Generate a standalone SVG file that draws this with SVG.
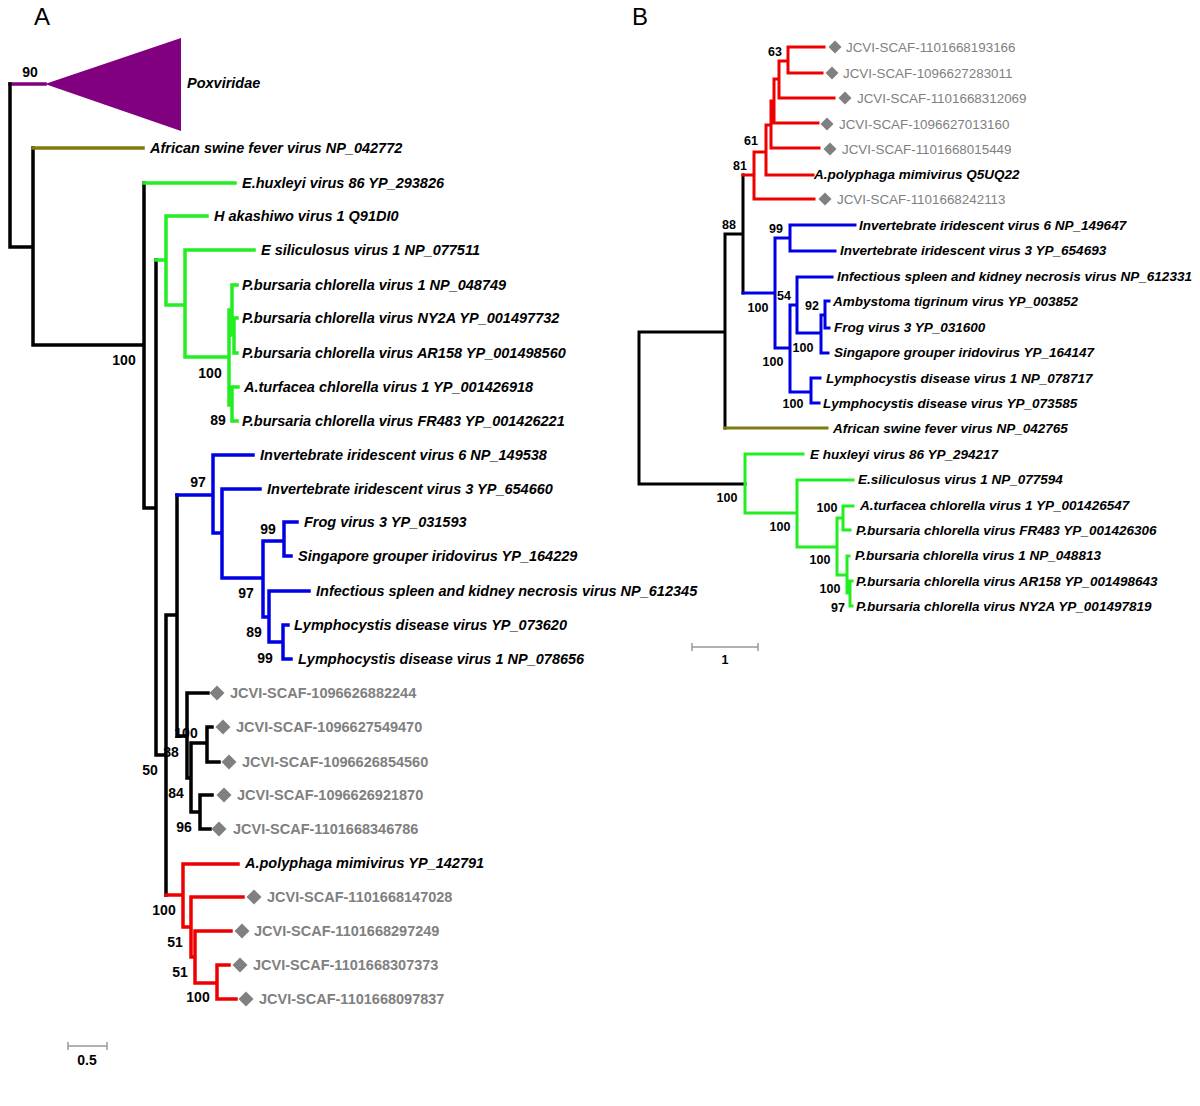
<svg xmlns="http://www.w3.org/2000/svg" width="1200" height="1106" viewBox="0 0 1200 1106">
<style>
.bg{fill:#fff}
.e{fill:none;stroke-linecap:square;stroke-linejoin:miter}
.ea{stroke-width:3.5}
.eb{stroke-width:3}
.k{stroke:#000}
.gr{stroke:#22ee22}
.bl{stroke:#0000e6}
.rd{stroke:#ee0000}
.ol{stroke:#807a10}
.pu{stroke:#800080}
.ta{font:italic bold 14.5px 'Liberation Sans',Arial,sans-serif;fill:#000}
.ga{font:bold 14.5px 'Liberation Sans',Arial,sans-serif;fill:#808080}
.tb{font:italic bold 13.5px 'Liberation Sans',Arial,sans-serif;fill:#000}
.gb{font:13.4px 'Liberation Sans',Arial,sans-serif;fill:#808080}
.na{font:bold 14px 'Liberation Sans',Arial,sans-serif;fill:#000;text-anchor:middle}
.nb{font:bold 12.5px 'Liberation Sans',Arial,sans-serif;fill:#000;text-anchor:middle}
.pl{font:24px 'Liberation Sans',Arial,sans-serif;fill:#000}
.dm{fill:#808080}
.sc{stroke:#999;stroke-width:1.5;fill:none}
</style>
<defs>
<path id="dA" d="M0,-7.5 L7.5,0 L0,7.5 L-7.5,0 Z" class="dm"/>
<path id="dB" d="M0,-6.5 L6.5,0 L0,6.5 L-6.5,0 Z" class="dm"/>
</defs>
<rect class="bg" x="0" y="0" width="1200" height="1106"/>
<text class="pl" x="34" y="25">A</text>
<text class="pl" x="632" y="25">B</text>

<g id="connectors">
<!-- Panel A -->
<path class="e ea pu" d="M10,84 H45"/>
<polygon id="poxviridae-triangle" points="45,84 181,38 181,131" fill="#800080"/>
<path class="e ea k" d="M10,84 V247 M10,247 H33 M33,148 V345 M33,345 H144 M144,183 V508 M144,508 H156 M156,260 V755 M156,755 H166 M166,615 V895 M166,615 H177 M177,495 V736 M177,736 H187 M187,693 V778 M187,693 H208 M187,778 H191 M191,743 V812 M191,743 H207 M207,727 V762 M207,727 H212 M207,762 H219 M191,812 H200 M200,795 V829 M200,795 H212 M200,829 H210"/>
<path class="e ea ol" d="M33,148 H143"/>
<path class="e ea gr" d="M144,183 H235 M156,260 H166 M166,216 V305 M166,216 H207 M166,305 H185 M185,250 V357 M185,250 H254 M185,357 H229 M229,310 V405 M229,310 H232 M232,285 V335 M232,285 H237 M232,335 H234 M234,318 V353 M234,318 H237 M234,353 H237 M229,405 H232 M232,387 V421 M232,387 H238 M232,421 H237"/>
<path class="e ea bl" d="M177,495 H213 M213,455 V533 M213,455 H253 M213,533 H222 M222,489 V578 M222,489 H260 M222,578 H263 M263,541 V617 M263,541 H284 M284,522 V556 M284,522 H297 M284,556 H291 M263,617 H269 M269,591 V642 M269,591 H309 M269,642 H283 M283,625 V659 M283,625 H288 M283,659 H291"/>
<path class="e ea rd" d="M166,895 H183 M183,864 V927 M183,864 H238 M183,927 H191 M191,897 V957 M191,897 H243 M191,957 H195 M195,931 V983 M195,931 H231 M195,983 H217 M217,965 V999 M217,965 H229 M217,999 H236"/>
<!-- Panel B -->
<path class="e eb k" d="M639,332 V484 M639,332 H725 M725,234 V428 M725,234 H743 M743,175 V293 M639,484 H745"/>
<path class="e eb rd" d="M743,175 H754 M754,152 V199 M754,199 H814 M754,152 H766 M766,125 V175 M766,175 H813 M766,125 H771 M771,101 V148 M771,148 H819 M771,101 H774 M774,79 V123 M774,123 H818 M774,79 H779 M779,61 V98 M779,98 H834 M779,61 H788 M788,47 V73 M788,47 H824 M788,73 H822"/>
<path class="e eb ol" d="M725,428 H827"/>
<path class="e eb bl" d="M743,293 H775 M775,238 V348 M775,238 H790 M790,225 V251 M790,225 H855 M790,251 H835 M775,348 H790 M790,305 V392 M790,305 H797 M797,277 V333 M797,277 H832 M797,333 H821 M821,315 V353 M821,315 H825 M825,301 V328 M825,301 H829 M825,328 H829 M821,353 H828 M790,392 H811 M811,378 V403 M811,378 H820 M811,403 H819"/>
<path class="e eb gr" d="M745,454 V513 M745,454 H803 M745,513 H797 M797,480 V547 M797,480 H853 M797,547 H837 M837,518 V575 M837,518 H843 M843,506 V530 M843,506 H853 M843,530 H850 M837,575 H847 M847,556 V593 M847,556 H849 M847,593 H850 M850,581 V606 M850,581 H852 M850,606 H852"/>
</g>

<!-- Panel A leaves -->
<g id="a-poxviridae"><text class="ta" x="187" y="88">Poxviridae</text></g>
<g id="a-asfv"><text class="ta" x="150" y="153">African swine fever virus NP_042772</text></g>
<g id="a-ehux"><text class="ta" x="242" y="188">E.huxleyi virus 86 YP_293826</text></g>
<g id="a-hak"><text class="ta" x="214" y="221">H akashiwo virus 1 Q91DI0</text></g>
<g id="a-esil"><text class="ta" x="261" y="255">E siliculosus virus 1 NP_077511</text></g>
<g id="a-pbcv1"><text class="ta" x="242" y="290">P.bursaria chlorella virus 1 NP_048749</text></g>
<g id="a-ny2a"><text class="ta" x="242" y="323">P.bursaria chlorella virus NY2A YP_001497732</text></g>
<g id="a-ar158"><text class="ta" x="242" y="358">P.bursaria chlorella virus AR158 YP_001498560</text></g>
<g id="a-atcv"><text class="ta" x="244" y="392">A.turfacea chlorella virus 1 YP_001426918</text></g>
<g id="a-fr483"><text class="ta" x="242" y="426">P.bursaria chlorella virus FR483 YP_001426221</text></g>
<g id="a-iiv6"><text class="ta" x="260" y="460">Invertebrate iridescent virus 6 NP_149538</text></g>
<g id="a-iiv3"><text class="ta" x="267" y="494">Invertebrate iridescent virus 3 YP_654660</text></g>
<g id="a-fv3"><text class="ta" x="304" y="527">Frog virus 3 YP_031593</text></g>
<g id="a-sgiv"><text class="ta" x="298" y="561">Singapore grouper iridovirus YP_164229</text></g>
<g id="a-iskn"><text class="ta" x="316" y="596">Infectious spleen and kidney necrosis virus NP_612345</text></g>
<g id="a-lcdv"><text class="ta" x="294" y="630">Lymphocystis disease virus YP_073620</text></g>
<g id="a-lcdv1"><text class="ta" x="298" y="664">Lymphocystis disease virus 1 NP_078656</text></g>
<g id="a-j1"><use href="#dA" x="217" y="693"/><text class="ga" x="230" y="698">JCVI-SCAF-1096626882244</text></g>
<g id="a-j2"><use href="#dA" x="223" y="727"/><text class="ga" x="236" y="732">JCVI-SCAF-1096627549470</text></g>
<g id="a-j3"><use href="#dA" x="229" y="762"/><text class="ga" x="242" y="767">JCVI-SCAF-1096626854560</text></g>
<g id="a-j4"><use href="#dA" x="224" y="795"/><text class="ga" x="237" y="800">JCVI-SCAF-1096626921870</text></g>
<g id="a-j5"><use href="#dA" x="219" y="829"/><text class="ga" x="233" y="834">JCVI-SCAF-1101668346786</text></g>
<g id="a-apmv"><text class="ta" x="245" y="868">A.polyphaga mimivirus YP_142791</text></g>
<g id="a-j6"><use href="#dA" x="254" y="897"/><text class="ga" x="267" y="902">JCVI-SCAF-1101668147028</text></g>
<g id="a-j7"><use href="#dA" x="242" y="931"/><text class="ga" x="254" y="936">JCVI-SCAF-1101668297249</text></g>
<g id="a-j8"><use href="#dA" x="240" y="965"/><text class="ga" x="253" y="970">JCVI-SCAF-1101668307373</text></g>
<g id="a-j9"><use href="#dA" x="246" y="999"/><text class="ga" x="259" y="1004">JCVI-SCAF-1101668097837</text></g>

<!-- Panel A node labels -->
<g id="a-support">
<text class="na" x="30" y="77">90</text>
<text class="na" x="124" y="365">100</text>
<text class="na" x="210" y="378">100</text>
<text class="na" x="218" y="425">89</text>
<text class="na" x="198" y="487">97</text>
<text class="na" x="268" y="534">99</text>
<text class="na" x="246" y="598">97</text>
<text class="na" x="254" y="637">89</text>
<text class="na" x="265" y="663">99</text>
<text class="na" x="186" y="738">100</text>
<text class="na" x="171" y="757">88</text>
<text class="na" x="150" y="775">50</text>
<text class="na" x="176" y="798">84</text>
<text class="na" x="184" y="832">96</text>
<text class="na" x="164" y="915">100</text>
<text class="na" x="175" y="947">51</text>
<text class="na" x="180" y="977">51</text>
<text class="na" x="198" y="1002">100</text>
</g>

<g id="a-scale">
<path class="sc" d="M68,1046 H107 M68,1042 V1050 M107,1042 V1050"/>
<text class="na" x="87" y="1065">0.5</text>
</g>

<!-- Panel B leaves -->
<g id="b-j1"><use href="#dB" x="835" y="47"/><text class="gb" x="846" y="52">JCVI-SCAF-1101668193166</text></g>
<g id="b-j2"><use href="#dB" x="832" y="73"/><text class="gb" x="843" y="78">JCVI-SCAF-1096627283011</text></g>
<g id="b-j3"><use href="#dB" x="845" y="98"/><text class="gb" x="857" y="103">JCVI-SCAF-1101668312069</text></g>
<g id="b-j4"><use href="#dB" x="827" y="124"/><text class="gb" x="839" y="129">JCVI-SCAF-1096627013160</text></g>
<g id="b-j5"><use href="#dB" x="830" y="149"/><text class="gb" x="842" y="154">JCVI-SCAF-1101668015449</text></g>
<g id="b-apmv"><text class="tb" x="814" y="179">A.polyphaga mimivirus Q5UQ22</text></g>
<g id="b-j6"><use href="#dB" x="825" y="199"/><text class="gb" x="837" y="204">JCVI-SCAF-1101668242113</text></g>
<g id="b-iiv6"><text class="tb" x="859" y="230">Invertebrate iridescent virus 6 NP_149647</text></g>
<g id="b-iiv3"><text class="tb" x="840" y="255">Invertebrate iridescent virus 3 YP_654693</text></g>
<g id="b-iskn"><text class="tb" x="837" y="281">Infectious spleen and kidney necrosis virus NP_612331</text></g>
<g id="b-atv"><text class="tb" x="833" y="306">Ambystoma tigrinum virus YP_003852</text></g>
<g id="b-fv3"><text class="tb" x="834" y="332">Frog virus 3 YP_031600</text></g>
<g id="b-sgiv"><text class="tb" x="834" y="357">Singapore grouper iridovirus YP_164147</text></g>
<g id="b-lcdv1"><text class="tb" x="826" y="383">Lymphocystis disease virus 1 NP_078717</text></g>
<g id="b-lcdv"><text class="tb" x="823" y="408">Lymphocystis disease virus YP_073585</text></g>
<g id="b-asfv"><text class="tb" x="833" y="433">African swine fever virus NP_042765</text></g>
<g id="b-ehux"><text class="tb" x="810" y="459">E huxleyi virus 86 YP_294217</text></g>
<g id="b-esil"><text class="tb" x="858" y="484">E.siliculosus virus 1 NP_077594</text></g>
<g id="b-atcv"><text class="tb" x="860" y="510">A.turfacea chlorella virus 1 YP_001426547</text></g>
<g id="b-fr483"><text class="tb" x="856" y="535">P.bursaria chlorella virus FR483 YP_001426306</text></g>
<g id="b-pbcv1"><text class="tb" x="855" y="560">P.bursaria chlorella virus 1 NP_048813</text></g>
<g id="b-ar158"><text class="tb" x="856" y="586">P.bursaria chlorella virus AR158 YP_001498643</text></g>
<g id="b-ny2a"><text class="tb" x="856" y="611">P.bursaria chlorella virus NY2A YP_001497819</text></g>

<!-- Panel B node labels -->
<g id="b-support">
<text class="nb" x="775" y="56">63</text>
<text class="nb" x="751" y="145">61</text>
<text class="nb" x="740" y="170">81</text>
<text class="nb" x="729" y="229">88</text>
<text class="nb" x="776" y="233">99</text>
<text class="nb" x="784" y="300">54</text>
<text class="nb" x="758" y="312">100</text>
<text class="nb" x="812" y="310">92</text>
<text class="nb" x="803" y="352">100</text>
<text class="nb" x="773" y="366">100</text>
<text class="nb" x="793" y="408">100</text>
<text class="nb" x="727" y="502">100</text>
<text class="nb" x="780" y="531">100</text>
<text class="nb" x="827" y="512">100</text>
<text class="nb" x="820" y="564">100</text>
<text class="nb" x="830" y="593">100</text>
<text class="nb" x="838" y="612">97</text>
</g>

<g id="b-scale">
<path class="sc" d="M692,647 H758 M692,643 V651 M758,643 V651"/>
<text class="nb" x="725" y="664">1</text>
</g>
</svg>
